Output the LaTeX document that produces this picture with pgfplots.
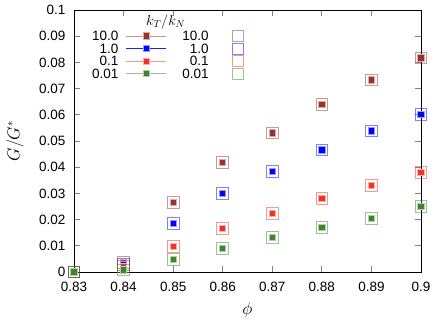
\documentclass[border=0pt]{standalone}
\usepackage{pgfplots}
\pgfplotsset{compat=1.18}
\usepackage{fontspec}
\setmainfont{Liberation Sans}
\definecolor{cBr}{RGB}{153,51,42}
\definecolor{cBl}{RGB}{0,0,255}
\definecolor{cRd}{RGB}{240,52,36}
\definecolor{cGr}{RGB}{61,133,40}
\definecolor{lBr}{RGB}{205,150,145}
\definecolor{lBl}{RGB}{30,30,255}
\definecolor{lRd}{RGB}{245,150,140}
\definecolor{lGr}{RGB}{150,195,140}
\pgfplotstableread{
x br bl rd gr
0.83 0 0 0 0
0.84 0.0036 0.0028 0.0020 0.0008
0.85 0.0265 0.0186 0.0097 0.0047
0.86 0.0417 0.0299 0.0165 0.0089
0.87 0.0531 0.0384 0.0223 0.0131
0.88 0.0640 0.0466 0.0280 0.0169
0.89 0.0733 0.0538 0.0331 0.0205
0.90 0.0817 0.0600 0.0380 0.0249
}\data
\pgfplotsset{
  filledser/.style 2 args={only marks, mark=square*, mark size=3.1pt,
    mark options={fill=#1, draw=#1!40!white, line width=0.9pt},
    legend image code/.code={
      \path[draw=none, fill=none] (0pt,-0.5pt) rectangle (64pt,0.5pt);
      \draw[draw=#2, line width=0.9pt] (8pt,0pt) -- (48pt,0pt);
      \path[mark=square*, mark size=3.1pt, mark options={fill=#1, draw=#1!40!white, line width=0.9pt}] plot coordinates {(28pt,0pt)};
    }},
  openser/.style={only marks, mark=square, mark size=5.9pt,
    mark options={draw=#1, draw opacity=0.5, line width=0.9pt},
    legend image code/.code={
      \path[draw=none, fill=none] (0pt,-0.5pt) rectangle (29pt,0.5pt);
      \path[mark=square, mark size=5.5pt, mark options={draw=#1, draw opacity=0.5, line width=0.8pt}] plot coordinates {(29pt,0pt)};
    }},
}
\begin{document}
\begin{tikzpicture}
\begin{axis}[name=ax,
  scale only axis, width=347pt, height=262pt,
  xmin=0.83, xmax=0.9, ymin=0, ymax=0.1,
  clip=false,
  axis line style={black, line width=0.8pt},
  tick align=inside,
  major tick length=6pt,
  tick style={gray, line width=0.8pt},
  xtick={0.83,0.84,0.85,0.86,0.87,0.88,0.89,0.9},
  xticklabels={0.83,0.84,0.85,0.86,0.87,0.88,0.89,0.9},
  ytick={0,0.01,0.02,0.03,0.04,0.05,0.06,0.07,0.08,0.09,0.1},
  yticklabels={0,0.01,0.02,0.03,0.04,0.05,0.06,0.07,0.08,0.09,0.1},
  ticklabel style={font=\fontsize{13.5}{16}\selectfont},
  xticklabel style={yshift=-7pt},
  yticklabel style={xshift=-5pt},
  xlabel={$\phi$}, ylabel={$G/G^*$},
  label style={font=\fontsize{16}{19}\selectfont},
  xlabel style={anchor=center, at={(axis description cs:0.5,-0.145)}},
  ylabel style={anchor=center, at={(axis description cs:-0.170,0.5)}},
  legend columns=2,
  legend plot pos=right,
  legend cell align=right,
  legend style={at={(axis cs:0.83302,0.093)}, anchor=north west, draw=none, fill=none,
    font=\fontsize{13.5}{16}\selectfont, column sep=0pt, row sep=1.6pt,
    nodes={inner sep=0pt, text height=9.5pt, text depth=0pt}},
]
\addplot[filledser={cBr}{lBr}] table[x=x,y=br]{\data};
\addplot[openser=cBr] table[x=x,y=br]{\data};
\addplot[filledser={cBl}{lBl}] table[x=x,y=bl]{\data};
\addplot[openser=cBl] table[x=x,y=bl]{\data};
\addplot[filledser={cRd}{lRd}] table[x=x,y=rd]{\data};
\addplot[openser=cRd] table[x=x,y=rd]{\data};
\addplot[filledser={cGr}{lGr}] table[x=x,y=gr]{\data};
\addplot[openser=cGr] table[x=x,y=gr]{\data};
\legend{10.0,10.0,1.0,1.0,0.1,0.1,0.01,0.01}
\node[font=\fontsize{14}{16}\selectfont] at (axis cs:0.8485,0.0954) {$k_T/k_N$};
\end{axis}
\pgfresetboundingbox
\path[use as bounding box] ([shift={(-74pt,-55pt)}]ax.south west) rectangle ([shift={(15pt,10pt)}]ax.north east);
\end{tikzpicture}
\end{document}
